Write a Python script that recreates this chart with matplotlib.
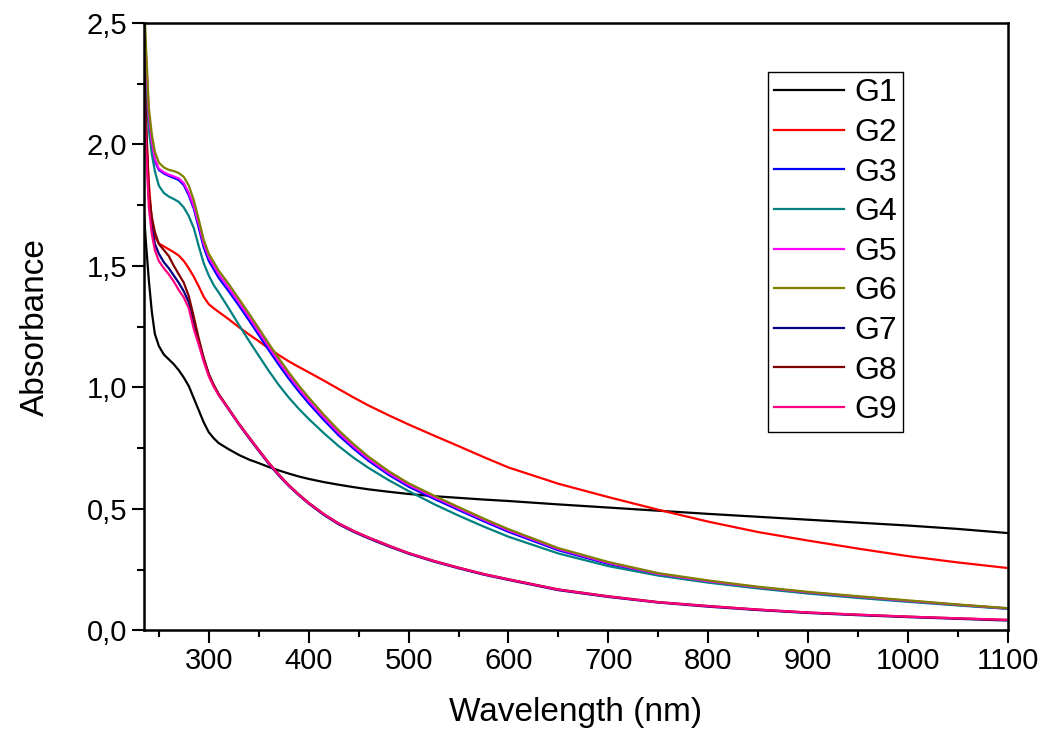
import matplotlib.pyplot as plt
from matplotlib.ticker import MultipleLocator, FuncFormatter

plt.rcParams['font.family'] = ['Liberation Sans', 'DejaVu Sans']

# wavelength grid (nm); absorbance values at these points
wavelength = [235, 237, 240, 243, 246, 250, 255, 260, 265, 270, 275, 280, 285, 290, 295,
              300, 305, 310, 320, 330, 340, 350, 360, 370, 380, 390, 400, 415, 430, 445,
              460, 480, 500, 525, 550, 575, 600, 650, 700, 750, 800, 850, 900, 950, 1000,
              1050, 1100]

g1 = [1.72, 1.60, 1.44, 1.31, 1.22, 1.17, 1.135, 1.115, 1.095, 1.07, 1.04, 1.005, 0.955, 0.905, 0.855,
      0.815, 0.79, 0.77, 0.745, 0.722, 0.703, 0.688, 0.672, 0.658, 0.645, 0.633, 0.623, 0.61, 0.599, 0.589,
      0.58, 0.57, 0.561, 0.552, 0.545, 0.538, 0.532, 0.518, 0.505, 0.492, 0.479, 0.467, 0.455, 0.443, 0.431,
      0.417, 0.40]
g2 = [2.30, 2.08, 1.84, 1.68, 1.62, 1.592, 1.58, 1.568, 1.556, 1.542, 1.52, 1.49, 1.455, 1.415, 1.372,
      1.342, 1.325, 1.31, 1.28, 1.248, 1.218, 1.19, 1.16, 1.133, 1.107, 1.084, 1.062, 1.028, 0.993, 0.958,
      0.925, 0.885, 0.847, 0.802, 0.758, 0.713, 0.67, 0.603, 0.548, 0.496, 0.447, 0.404, 0.369, 0.336, 0.305,
      0.279, 0.256]
g3 = [2.50, 2.35, 2.10, 2.00, 1.93, 1.895, 1.88, 1.87, 1.862, 1.853, 1.832, 1.79, 1.735, 1.655, 1.575,
      1.52, 1.485, 1.45, 1.395, 1.337, 1.277, 1.215, 1.153, 1.093, 1.036, 0.983, 0.934, 0.866, 0.802, 0.747,
      0.697, 0.64, 0.591, 0.542, 0.495, 0.449, 0.405, 0.329, 0.273, 0.229, 0.199, 0.175, 0.155, 0.137, 0.12,
      0.104, 0.089]
g4 = [2.35, 2.22, 2.06, 1.96, 1.89, 1.83, 1.80, 1.785, 1.775, 1.763, 1.74, 1.705, 1.655, 1.58, 1.51,
      1.46, 1.42, 1.39, 1.325, 1.258, 1.193, 1.13, 1.068, 1.01, 0.958, 0.912, 0.87, 0.812, 0.758, 0.71,
      0.668, 0.618, 0.573, 0.52, 0.472, 0.427, 0.385, 0.316, 0.264, 0.225, 0.196, 0.172, 0.151, 0.133, 0.117,
      0.102, 0.088]
g5 = [2.55, 2.38, 2.12, 2.01, 1.94, 1.90, 1.885, 1.875, 1.868, 1.86, 1.84, 1.80, 1.745, 1.67, 1.59,
      1.535, 1.50, 1.465, 1.41, 1.351, 1.291, 1.229, 1.167, 1.107, 1.05, 0.996, 0.946, 0.877, 0.812, 0.756,
      0.705, 0.647, 0.598, 0.549, 0.501, 0.455, 0.411, 0.334, 0.277, 0.232, 0.202, 0.177, 0.156, 0.138, 0.121,
      0.105, 0.09]
g6 = [2.62, 2.42, 2.15, 2.04, 1.97, 1.925, 1.905, 1.895, 1.89, 1.882, 1.866, 1.83, 1.77, 1.69, 1.606,
      1.55, 1.515, 1.48, 1.425, 1.365, 1.305, 1.243, 1.18, 1.12, 1.062, 1.008, 0.958, 0.888, 0.823, 0.766,
      0.714, 0.655, 0.605, 0.555, 0.507, 0.46, 0.416, 0.338, 0.281, 0.235, 0.205, 0.179, 0.158, 0.14, 0.123,
      0.106, 0.091]
g7 = [2.30, 2.05, 1.78, 1.66, 1.59, 1.55, 1.515, 1.49, 1.46, 1.43, 1.395, 1.35, 1.26, 1.19, 1.115,
      1.052, 1.007, 0.969, 0.908, 0.848, 0.792, 0.738, 0.685, 0.637, 0.594, 0.556, 0.521, 0.475, 0.436, 0.405,
      0.378, 0.345, 0.315, 0.283, 0.255, 0.229, 0.207, 0.165, 0.137, 0.114, 0.097, 0.083, 0.071, 0.062, 0.054,
      0.047, 0.04]
g8 = [2.35, 2.12, 1.80, 1.70, 1.64, 1.59, 1.565, 1.54, 1.50, 1.465, 1.43, 1.375, 1.29, 1.20, 1.12,
      1.055, 1.01, 0.972, 0.912, 0.852, 0.797, 0.743, 0.69, 0.642, 0.598, 0.56, 0.525, 0.479, 0.44, 0.409,
      0.382, 0.349, 0.318, 0.286, 0.258, 0.232, 0.21, 0.168, 0.14, 0.116, 0.10, 0.085, 0.073, 0.064, 0.056,
      0.049, 0.042]
g9 = [2.25, 2.00, 1.74, 1.63, 1.565, 1.52, 1.49, 1.465, 1.435, 1.40, 1.37, 1.325, 1.24, 1.175, 1.105,
      1.045, 1.002, 0.967, 0.909, 0.85, 0.795, 0.741, 0.688, 0.64, 0.596, 0.558, 0.523, 0.478, 0.439, 0.408,
      0.381, 0.348, 0.317, 0.285, 0.257, 0.231, 0.209, 0.167, 0.139, 0.115, 0.099, 0.085, 0.073, 0.064, 0.056,
      0.049, 0.043]

labels = ['G1', 'G2', 'G3', 'G4', 'G5', 'G6', 'G7', 'G8', 'G9']
series = [g1, g2, g3, g4, g5, g6, g7, g8, g9]
colors = ['#000000', '#FF0000', '#0000FF', '#008080', '#FF00FF',
          '#808000', '#000080', '#800000', '#FF0080']

fig = plt.figure(figsize=(10.5, 7.38), dpi=100)
ax = fig.add_axes([0.137, 0.146, 0.823, 0.823])

for vals, lab, col in zip(series, labels, colors):
    ax.plot(wavelength, vals, color=col, linewidth=1.6, label=lab)

ax.set_xlim(235, 1100)
ax.set_ylim(0, 2.5)
ax.xaxis.set_major_locator(MultipleLocator(100))
ax.xaxis.set_minor_locator(MultipleLocator(50))
ax.yaxis.set_major_locator(MultipleLocator(0.5))
ax.yaxis.set_minor_locator(MultipleLocator(0.25))
ax.yaxis.set_major_formatter(FuncFormatter(lambda v, p: f'{v:.1f}'.replace('.', ',')))

ax.tick_params(which='both', direction='out', top=False, right=False, labelsize=21, width=1.5)
ax.tick_params(which='major', length=9, pad=3)
ax.tick_params(which='minor', length=5)
for sp in ax.spines.values():
    sp.set_linewidth(1.8)

ax.set_xlabel('Wavelength (nm)', fontsize=24, labelpad=16)
ax.set_ylabel('Absorbance', fontsize=24, labelpad=26)

leg = ax.legend(loc='upper left', bbox_to_anchor=(0.722, 0.919), fontsize=23,
                frameon=True, fancybox=False, framealpha=1, edgecolor='black',
                handlelength=2.2, handletextpad=0.3, labelspacing=0.3,
                borderpad=0.2, borderaxespad=0)
leg.get_frame().set_linewidth(1.0)

fig.savefig('out.png', dpi=100)
